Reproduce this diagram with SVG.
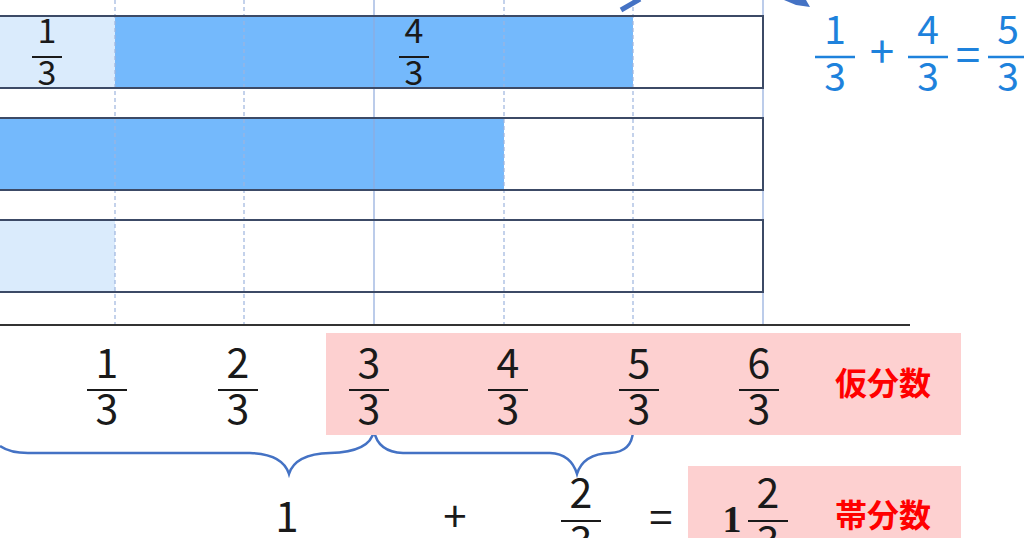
<svg xmlns="http://www.w3.org/2000/svg" width="1024" height="538" viewBox="0 0 1024 538">
<style>
.grid-d{stroke:#9db5de;stroke-width:1.2;stroke-dasharray:4 3;fill:none}
.grid-s{stroke:#8faadc;stroke-width:1.2;fill:none}
.bar{fill:none;stroke:#3c4a66;stroke-width:2}
.dig{font-family:"Noto Sans CJK JP","Noto Sans",sans-serif;fill:#1a1a1a;text-anchor:middle}
.fl{stroke:#1a1a1a;stroke-width:2}
.blue{fill:#1e82dc}
.bl{stroke:#1e82dc;stroke-width:2.5}
.lbl{font-family:"Noto Sans CJK JP",sans-serif;font-weight:bold;fill:#ff0000;font-size:32px}
.brace{fill:none;stroke:#4472c4;stroke-width:2.5}
</style>
<rect width="1024" height="538" fill="#ffffff"/>
<g id="bars">
<rect x="0" y="16" width="115" height="72" fill="#daebfc"/>
<rect x="115" y="16" width="518" height="72" fill="#74b9fc"/>
<rect x="0" y="118" width="504" height="72" fill="#74b9fc"/>
<rect x="0" y="220" width="115" height="72" fill="#daebfc"/>
</g>
<g id="grid">
<line class="grid-d" x1="115" y1="0" x2="115" y2="325"/>
<line class="grid-d" x1="244" y1="0" x2="244" y2="325"/>
<line class="grid-s" x1="374" y1="0" x2="374" y2="325"/>
<line class="grid-d" x1="504" y1="0" x2="504" y2="325"/>
<line class="grid-d" x1="633" y1="0" x2="633" y2="325"/>
<line class="grid-s" x1="763" y1="0" x2="763" y2="325"/>
</g>
<g id="bar-outlines">
<rect class="bar" x="-5" y="16" width="768" height="72"/>
<rect class="bar" x="-5" y="118" width="768" height="72"/>
<rect class="bar" x="-5" y="220" width="768" height="72"/>
<line x1="0" y1="325" x2="910" y2="325" stroke="#333333" stroke-width="2"/>
</g>
<g id="bar-labels">
<text class="dig" x="47" y="43" font-size="34">1</text>
<line class="fl" x1="32" y1="57" x2="62" y2="57"/>
<text class="dig" x="47" y="85" font-size="34">3</text>
<text class="dig" x="414" y="43" font-size="34">4</text>
<line class="fl" x1="399" y1="57" x2="429" y2="57"/>
<text class="dig" x="414" y="85" font-size="34">3</text>
</g>
<g id="connectors">
<line x1="621" y1="10" x2="640" y2="-1" stroke="#4472c4" stroke-width="5"/>
<polygon points="784,0 806,0 810,7 796,5" fill="#4472c4"/>
<path class="brace" d="M0,446 Q10,453 28,453 L250,453 Q283,454 289,474 Q295,454 330,453 Q370,452 374,431"/>
<path class="brace" d="M374,431 Q378,452 403,453 L550,453 Q571,454 577,474 Q583,454 610,453 Q632,452 633,431"/>
</g>
<g id="formula-top">
<text class="dig blue" x="835" y="44" font-size="39">1</text>
<line class="bl" x1="815" y1="57" x2="855" y2="57"/>
<text class="dig blue" x="835" y="91" font-size="39">3</text>
<text class="dig blue" x="882" y="68" font-size="44">+</text>
<text class="dig blue" x="928" y="44" font-size="39">4</text>
<line class="bl" x1="908" y1="57" x2="948" y2="57"/>
<text class="dig blue" x="928" y="91" font-size="39">3</text>
<text class="dig blue" x="968" y="71" font-size="44">=</text>
<text class="dig blue" x="1008" y="44" font-size="39">5</text>
<line class="bl" x1="988" y1="57" x2="1028" y2="57"/>
<text class="dig blue" x="1008" y="91" font-size="39">3</text>
</g>
<g id="improper">
<rect x="326" y="333" width="635" height="102" fill="#fdd0d0"/>
<text class="dig" x="107" y="378" font-size="41">1</text><line class="fl" x1="87" y1="390" x2="127" y2="390"/><text class="dig" x="107" y="424" font-size="41">3</text>
<text class="dig" x="238" y="378" font-size="41">2</text><line class="fl" x1="218" y1="390" x2="258" y2="390"/><text class="dig" x="238" y="424" font-size="41">3</text>
<text class="dig" x="369" y="378" font-size="41">3</text><line class="fl" x1="349" y1="390" x2="389" y2="390"/><text class="dig" x="369" y="424" font-size="41">3</text>
<text class="dig" x="508" y="378" font-size="41">4</text><line class="fl" x1="488" y1="390" x2="528" y2="390"/><text class="dig" x="508" y="424" font-size="41">3</text>
<text class="dig" x="639" y="378" font-size="41">5</text><line class="fl" x1="619" y1="390" x2="659" y2="390"/><text class="dig" x="639" y="424" font-size="41">3</text>
<text class="dig" x="759" y="378" font-size="41">6</text><line class="fl" x1="739" y1="390" x2="779" y2="390"/><text class="dig" x="759" y="424" font-size="41">3</text>
<text class="lbl" x="835" y="395">仮分数</text>
</g>
<g id="mixed-eq">
<text class="dig" x="287" y="532" font-size="42">1</text>
<text class="dig" x="455" y="532" font-size="42">+</text>
<text class="dig" x="581" y="508" font-size="41">2</text><line class="fl" x1="561" y1="521" x2="601" y2="521"/><text class="dig" x="581" y="556" font-size="41">3</text>
<text class="dig" x="661" y="533" font-size="42">=</text>
</g>
<g id="mixed">
<rect x="688" y="466" width="273" height="80" fill="#fdd0d0"/>
<text x="732" y="532" font-family="Liberation Serif,serif" font-size="38" font-weight="bold" text-anchor="middle" fill="#1a1a1a">1</text>
<text class="dig" x="768" y="508" font-size="41">2</text><line class="fl" x1="748" y1="521" x2="788" y2="521"/><text class="dig" x="768" y="556" font-size="41">3</text>
<text class="lbl" x="835" y="527">帯分数</text>
</g>
</svg>
